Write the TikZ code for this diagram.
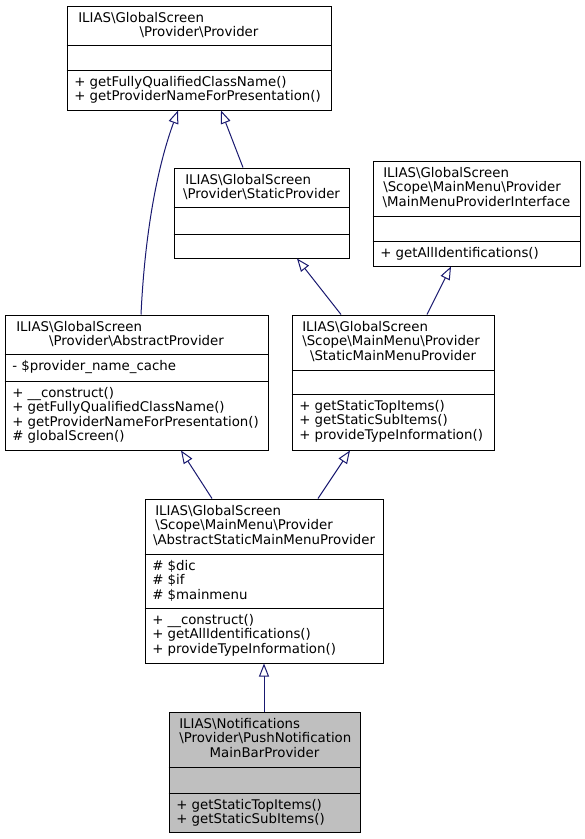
\documentclass[tikz,border=0pt]{standalone}
\usepackage{fontspec}
\setmainfont{DejaVu Sans}
\usetikzlibrary{arrows.meta,fit}
\newcommand{\bs}{\textbackslash}
\definecolor{edgec}{HTML}{191970}
\definecolor{boxgray}{HTML}{BFBFBF}
\tikzset{
  x=0.75pt, y=-0.75pt,
  box/.style={draw=black, line width=0.75pt, inner sep=0pt, fill=white},
  cur/.style={box, fill=boxgray},
  txt/.style={inner sep=0pt, font=\fontsize{10}{12}\selectfont, anchor=base west},
  ctxt/.style={inner sep=0pt, font=\fontsize{10}{12}\selectfont, anchor=base},
  sep/.style={draw=black, line width=0.75pt},
  inh/.style={draw=edgec, line width=0.75pt, -{Triangle[open, length=9.75pt, width=7.5pt, fill=white]}}
}
\begin{document}
\begin{tikzpicture}
\useasboundingbox (0,0) rectangle (585,839);
\fill[white] (0,0) rectangle (585,839);

% Provider
\node[box, fit={(67,6) (331,110)}] (p) {};
\draw[sep] (p.west |- 0,45) -- (p.east |- 0,45);
\draw[sep] (p.west |- 0,70) -- (p.east |- 0,70);
\node[txt] (p1) at (78,22) {ILIAS\bs GlobalScreen};
\node[ctxt] (p2) at (199,36.5) {\bs Provider\bs Provider};
\node[txt] (p3) at (74,86) {+ getFullyQualifiedClassName()};
\node[txt] (p4) at (74,100.5) {+ getProviderNameForPresentation()};

% StaticProvider
\node[box, fit={(174,168) (349,258)}] (sp) {};
\draw[sep] (sp.west |- 0,207) -- (sp.east |- 0,207);
\draw[sep] (sp.west |- 0,234) -- (sp.east |- 0,234);
\node[txt] (sp1) at (185,184) {ILIAS\bs GlobalScreen};
\node[ctxt] (sp2) at (261.5,198.5) {\bs Provider\bs StaticProvider};

% MainMenuProviderInterface
\node[box, fit={(373,161) (580,266)}] (mi) {};
\draw[sep] (mi.west |- 0,216) -- (mi.east |- 0,216);
\draw[sep] (mi.west |- 0,241) -- (mi.east |- 0,241);
\node[txt] (mi1) at (383,177) {ILIAS\bs GlobalScreen};
\node[txt] (mi2) at (383,191.5) {\bs Scope\bs MainMenu\bs Provider};
\node[ctxt] (mi3) at (476.5,206) {\bs MainMenuProviderInterface};
\node[txt] (mi4) at (380,257) {+ getAllIdentifications()};

% AbstractProvider
\node[box, fit={(5,315) (268,450)}] (ap) {};
\draw[sep] (ap.west |- 0,354) -- (ap.east |- 0,354);
\draw[sep] (ap.west |- 0,381) -- (ap.east |- 0,381);
\node[txt] (ap1) at (16,331) {ILIAS\bs GlobalScreen};
\node[ctxt] (ap2) at (136.5,345.5) {\bs Provider\bs AbstractProvider};
\node[txt] (ap3) at (12,370) {- \$provider\_name\_cache};
\node[txt] (ap4) at (12,397) {+ \_\_construct()};
\node[txt] (ap5) at (12,411.5) {+ getFullyQualifiedClassName()};
\node[txt] (ap6) at (12,426) {+ getProviderNameForPresentation()};
\node[txt] (ap7) at (12,440.5) {\# globalScreen()};

% StaticMainMenuProvider
\node[box, fit={(292,315) (494,450)}] (sm) {};
\draw[sep] (sm.west |- 0,370) -- (sm.east |- 0,370);
\draw[sep] (sm.west |- 0,394) -- (sm.east |- 0,394);
\node[txt] (sm1) at (302,331) {ILIAS\bs GlobalScreen};
\node[txt] (sm2) at (302,345.5) {\bs Scope\bs MainMenu\bs Provider};
\node[ctxt] (sm3) at (393,360) {\bs StaticMainMenuProvider};
\node[txt] (sm4) at (299,410) {+ getStaticTopItems()};
\node[txt] (sm5) at (299,424.5) {+ getStaticSubItems()};
\node[txt] (sm6) at (299,439) {+ provideTypeInformation()};

% AbstractStaticMainMenuProvider
\node[box, fit={(145,499) (383,663)}] (as) {};
\draw[sep] (as.west |- 0,554) -- (as.east |- 0,554);
\draw[sep] (as.west |- 0,608) -- (as.east |- 0,608);
\node[txt] (as1) at (155,515) {ILIAS\bs GlobalScreen};
\node[txt] (as2) at (155,529.5) {\bs Scope\bs MainMenu\bs Provider};
\node[ctxt] (as3) at (264,544) {\bs AbstractStaticMainMenuProvider};
\node[txt] (as4) at (152,570) {\# \$dic};
\node[txt] (as5) at (152,584.5) {\# \$if};
\node[txt] (as6) at (152,599) {\# \$mainmenu};
\node[txt] (as7) at (152,624) {+ \_\_construct()};
\node[txt] (as8) at (152,638.5) {+ getAllIdentifications()};
\node[txt] (as9) at (152,653) {+ provideTypeInformation()};

% PushNotificationMainBarProvider
\node[cur, fit={(169,712) (360,832)}] (pn) {};
\draw[sep] (pn.west |- 0,767) -- (pn.east |- 0,767);
\draw[sep] (pn.west |- 0,793) -- (pn.east |- 0,793);
\node[txt] (pn1) at (179,728) {ILIAS\bs Notifications};
\node[txt] (pn2) at (179,742.5) {\bs Provider\bs PushNotification};
\node[ctxt] (pn3) at (264.5,757) {MainBarProvider};
\node[txt] (pn4) at (176,809) {+ getStaticTopItems()};
\node[txt] (pn5) at (176,823.5) {+ getStaticSubItems()};

% Inheritance edges
\draw[inh] (ap.north -| 141,0) .. controls (145,230) and (158,165) .. (p.south -| 178,0);
\draw[inh] (sp.north -| 243,0) -- (p.south -| 221,0);
\draw[inh] (sm.north -| 341,0) -- (sp.south -| 297,0);
\draw[inh] (sm.north -| 427,0) -- (mi.south -| 451,0);
\draw[inh] (as.north -| 212,0) -- (ap.south -| 181,0);
\draw[inh] (as.north -| 318,0) -- (sm.south -| 350,0);
\draw[inh] (pn.north -| 264,0) -- (as.south -| 264,0);
\end{tikzpicture}
\end{document}
